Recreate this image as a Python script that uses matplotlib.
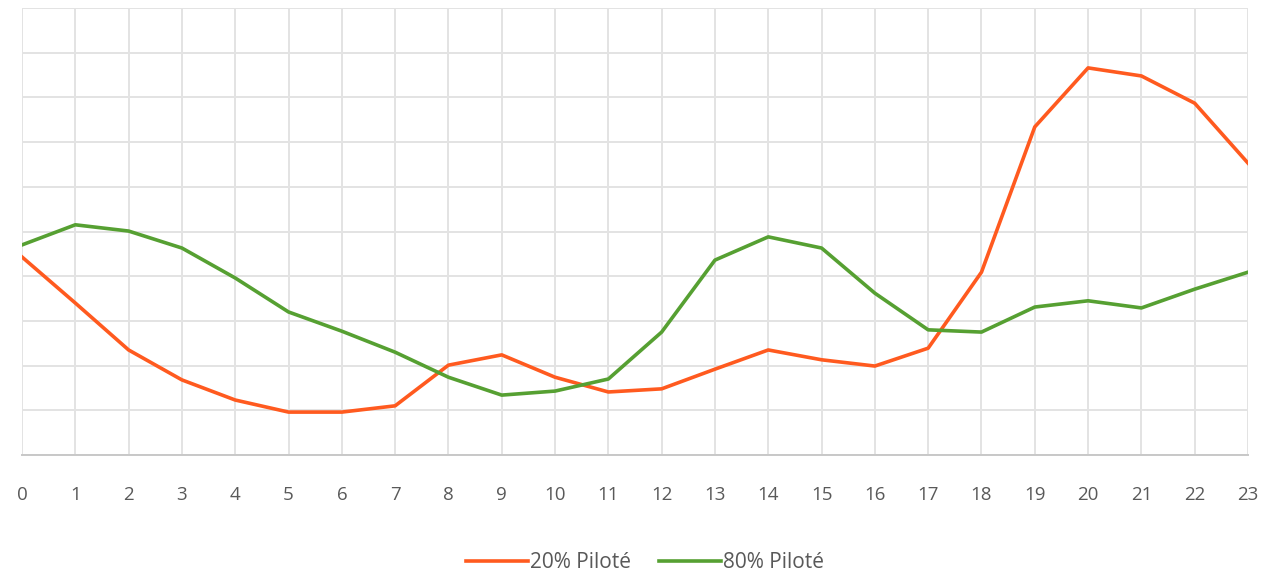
import matplotlib
matplotlib.use("Agg")
import matplotlib.pyplot as plt

hours = list(range(24))
tick_labels = [str(h) for h in hours]
pilote_20 = [4.43, 3.40, 2.35, 1.68, 1.23, 0.96, 0.96, 1.10, 2.01, 2.24, 1.74, 1.41,
             1.48, 1.92, 2.35, 2.13, 1.99, 2.39, 4.09, 7.34, 8.66, 8.48, 7.87, 6.53]
pilote_80 = [4.70, 5.15, 5.01, 4.63, 3.96, 3.20, 2.77, 2.30, 1.74, 1.34, 1.43, 1.70,
             2.75, 4.36, 4.88, 4.63, 3.62, 2.80, 2.75, 3.31, 3.45, 3.29, 3.71, 4.09]
series_names = ["20% Piloté", "80% Piloté"]

plt.rcParams['font.family'] = ['Open Sans', 'DejaVu Sans']

fig = plt.figure(figsize=(12.83, 5.75), dpi=100)
ax = fig.add_axes([22/1283, 1-455/575, (1248-22)/1283, (455-8)/575])

ax.plot(hours, pilote_20, color="#FF5A1F", lw=2.6, label=series_names[0], zorder=3)
ax.plot(hours, pilote_80, color="#56A032", lw=2.6, label=series_names[1], zorder=3)

ax.set_xlim(0, 23)
ax.set_ylim(0, 10)
ax.set_xticks(hours)
ax.set_xticklabels(tick_labels, fontsize=13.5, color="#595959")
ax.set_yticks(range(0, 11))
ax.tick_params(axis='y', left=False, labelleft=False)
ax.tick_params(axis='x', length=0, pad=22)
ax.grid(True, color="#e3e3e3", lw=1.4, zorder=0)
for s in ["top", "right", "left"]:
    ax.spines[s].set_visible(False)
ax.spines["bottom"].set_color("#c8c8c8")
ax.spines["bottom"].set_linewidth(1.4)
ax.set_axisbelow(True)

fig.legend(loc="center", bbox_to_anchor=(645/1283, 1-563/575), ncol=2, frameon=False,
           fontsize=15, labelcolor="#595959", handlelength=3.0, handletextpad=0.1,
           columnspacing=1.3)

fig.savefig("out.png", dpi=100)
